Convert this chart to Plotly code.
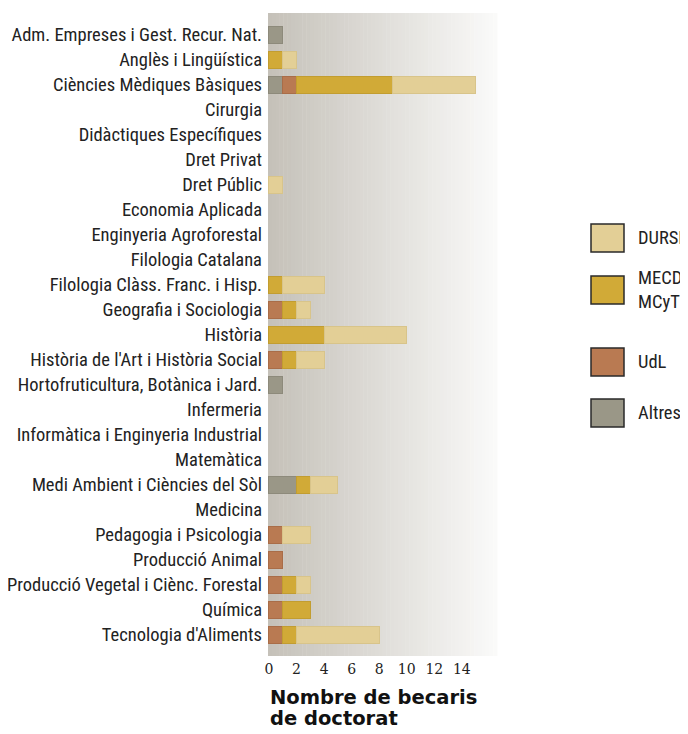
import plotly.graph_objects as go

categories = [
    "Adm. Empreses i Gest. Recur. Nat.",
    "Anglès i Lingüística",
    "Ciències Mèdiques Bàsiques",
    "Cirurgia",
    "Didàctiques Específiques",
    "Dret Privat",
    "Dret Públic",
    "Economia Aplicada",
    "Enginyeria Agroforestal",
    "Filologia Catalana",
    "Filologia Clàss. Franc. i Hisp.",
    "Geografia i Sociologia",
    "Història",
    "Història de l'Art i Història Social",
    "Hortofruticultura, Botànica i Jard.",
    "Infermeria",
    "Informàtica i Enginyeria Industrial",
    "Matemàtica",
    "Medi Ambient i Ciències del Sòl",
    "Medicina",
    "Pedagogia i Psicologia",
    "Producció Animal",
    "Producció Vegetal i Ciènc. Forestal",
    "Química",
    "Tecnologia d'Aliments",
]
altres = [1, 0, 1, 0, 0, 0, 0, 0, 0, 0, 0, 0, 0, 0, 1, 0, 0, 0, 2, 0, 0, 0, 0, 0, 0]
udl = [0, 0, 1, 0, 0, 0, 0, 0, 0, 0, 0, 1, 0, 1, 0, 0, 0, 0, 0, 0, 1, 1, 1, 1, 1]
mecd = [0, 1, 7, 0, 0, 0, 0, 0, 0, 0, 1, 1, 4, 1, 0, 0, 0, 0, 1, 0, 0, 0, 1, 2, 1]
dursi = [0, 1, 6, 0, 0, 0, 1, 0, 0, 0, 3, 1, 6, 2, 0, 0, 0, 0, 2, 0, 2, 0, 1, 0, 6]
x_ticks = [0, 2, 4, 6, 8, 10, 12, 14]

series = [
    ("Altres", altres, "#9a9787", "#8d8a7b"),
    ("UdL", udl, "#b97a52", "#a96d48"),
    ("MECD<br>MCyT", mecd, "#d1aa37", "#c29d30"),
    ("DURSI", dursi, "#e3cf96", "#d8c48a"),
]

# page has an 8px body margin; figure drawn from (8, 8)
OFF = 8
W, H = 688 - OFF, 734 - OFF
L, R, T, B = 268 - OFF, 497 - OFF, 13 - OFF, 656 - OFF
label_font = "Roboto Condensed, Roboto, sans-serif"

fig = go.Figure()
for name, vals, col, lcol in series:
    fig.add_trace(go.Bar(
        y=categories, x=[v if v else None for v in vals], orientation="h", name=name,
        marker=dict(color=col, line=dict(color=lcol, width=1)),
        showlegend=False,
    ))

# gradient background
shapes = []
n = 60
c0 = (197, 193, 185)
c1 = (250, 250, 249)
for i in range(n):
    t = i / (n - 1)
    c = tuple(round(a + (b - a) * t) for a, b in zip(c0, c1))
    shapes.append(dict(type="rect", xref="x domain", yref="y domain",
                       x0=i / n, x1=(i + 1) / n + 0.002, y0=0, y1=1,
                       fillcolor="rgb(%d,%d,%d)" % c, line=dict(width=0), layer="below"))

def px_x(p):
    return (p - OFF - L) / (R - L)

def px_y(p):
    return (B - (p - OFF)) / (B - T)

# custom legend
legend_items = [("DURSI", "#e3cf96", 238), ("MECD<br>MCyT", "#d1aa37", 290),
                ("UdL", "#b97a52", 362), ("Altres", "#9a9787", 413)]
annotations = []
for text, col, cy in legend_items:
    shapes.append(dict(type="rect", xref="paper", yref="paper",
                       x0=px_x(591), x1=px_x(624), y0=px_y(cy + 14), y1=px_y(cy - 14),
                       fillcolor=col, line=dict(color="#2a2a2a", width=1.5)))
    annotations.append(dict(x=px_x(636), y=px_y(cy), xref="paper", yref="paper",
                            text=text, showarrow=False, xanchor="left", yanchor="middle",
                            align="left", font=dict(family=label_font, size=18.5, color="#222")))

for line_text, cy in [("Nombre de becaris", 697), ("de doctorat", 718)]:
    annotations.append(dict(x=px_x(268), y=px_y(cy), xref="paper", yref="paper",
                            text="<b>%s</b>" % line_text, showarrow=False,
                            xanchor="left", yanchor="middle", align="left",
                            font=dict(family="DejaVu Sans", size=19.5, color="#111")))

fig.update_layout(
    width=W, height=H,
    margin=dict(l=L, r=W - R, t=T, b=H - B, pad=0),
    barmode="stack", bargap=0.3,
    paper_bgcolor="white", plot_bgcolor="white",
    shapes=shapes, annotations=annotations,
    xaxis=dict(range=[-0.07, 16.55], tickvals=x_ticks, ticktext=[str(v) for v in x_ticks],
               showgrid=False, zeroline=False, showline=False, ticks="",
               tickfont=dict(family="DejaVu Serif", size=14, color="#222"),
               ticklabelstandoff=3, automargin=False),
    yaxis=dict(categoryorder="array", categoryarray=categories, range=[24.84, -0.88],
               showgrid=False, zeroline=False, showline=False, ticks="",
               tickfont=dict(family=label_font, size=18.5, color="#222"),
               ticklabelstandoff=5, automargin=False),
)

fig.write_html("out.html")
